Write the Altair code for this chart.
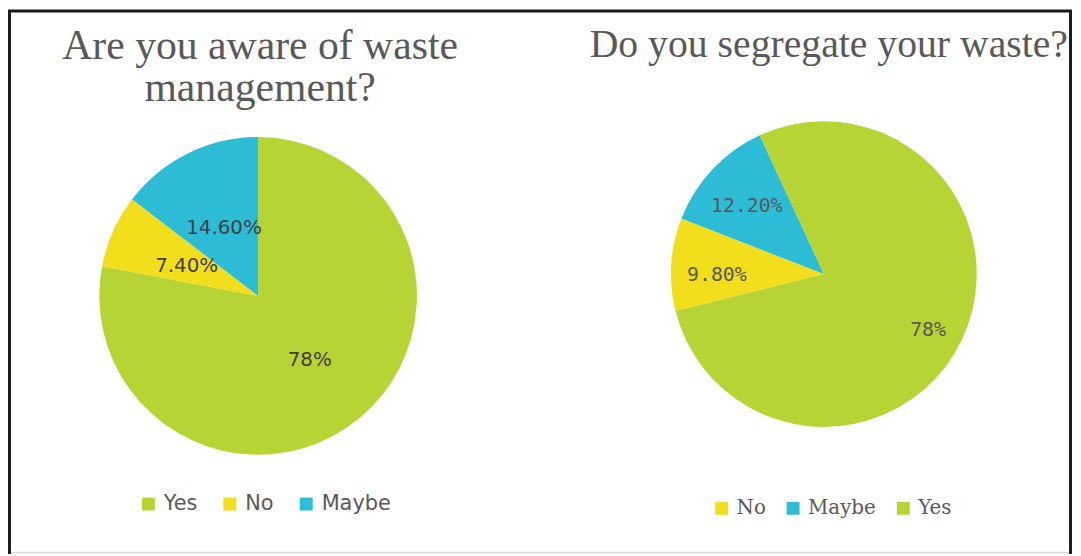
import math
import altair as alt
import pandas as pd

# ---- data ----
left_cats = ["Yes", "No", "Maybe"]
left_vals = [78.0, 7.4, 14.6]
left_labels = ["78%", "7.40%", "14.60%"]

right_cats = ["No", "Maybe", "Yes"]
right_vals = [9.8, 12.2, 78.0]
right_labels = ["9.80%", "12.20%", "78%"]

left_title = ["Are you aware of waste", "management?"]
right_title = "Do you segregate your waste?"

colors = {"Yes": "#B6D433", "No": "#F2DE1B", "Maybe": "#2CBCD6"}

W, H = 1073, 548


def pie(cats, vals, labels, cx, cy, r, label_r, start, label_font, label_color,
        legend, ldx, ldy):
    df = pd.DataFrame({"cat": cats, "val": vals, "label": labels,
                       "ord": list(range(len(cats)))})
    theta_scale = alt.Scale(range=[start, start + 2 * math.pi])
    base = alt.Chart(df).encode(
        theta=alt.Theta("val:Q", stack=True, scale=theta_scale),
        order=alt.Order("ord:Q"),
        x=alt.value(cx),
        y=alt.value(cy),
    )
    arc = base.mark_arc(outerRadius=r).encode(
        color=alt.Color("cat:N",
                        scale=alt.Scale(domain=cats, range=[colors[c] for c in cats]),
                        legend=legend)
    )
    text = base.mark_text(radius=label_r, font=label_font, fontSize=20,
                          color=label_color, dx=ldx, dy=ldy).encode(text="label:N")
    return alt.layer(arc, text)


left_legend = alt.Legend(orient="none", legendX=131, legendY=487, direction="horizontal",
                         title=None, symbolType="square", symbolSize=169,
                         symbolStrokeWidth=0, labelFont="DejaVu Sans", labelFontSize=21,
                         labelColor="#595959", labelOffset=5, columnPadding=22, padding=0)
right_legend = alt.Legend(orient="none", legendX=709, legendY=492, direction="horizontal",
                          title=None, symbolType="square", symbolSize=169,
                          symbolStrokeWidth=0, labelFont="DejaVu Serif", labelFontSize=20,
                          labelColor="#595959", labelOffset=5, columnPadding=17, padding=0)

left = pie(left_cats, left_vals, left_labels, 252, 288, 160, 80, 0.0,
           "DejaVu Sans", "#404040", left_legend, 1, 3)
right = pie(right_cats, right_vals, right_labels, 822, 266, 154, 112,
            math.radians(256), "DejaVu Sans Mono", "#595959", right_legend, 4, 8)

one = pd.DataFrame({"a": [0]})

title_l = alt.Chart(one).mark_text(text=left_title, font="Liberation Serif", fontSize=42,
                                   color="#595959", align="center", baseline="alphabetic",
                                   lineHeight=43).encode(x=alt.value(254), y=alt.value(49))
title_r = alt.Chart(one).mark_text(text=right_title, font="Liberation Serif", fontSize=40,
                                   color="#595959", align="center",
                                   baseline="alphabetic").encode(x=alt.value(827), y=alt.value(47))

frame_color = "#1a1a1a"
f_left = alt.Chart(one).mark_rule(color=frame_color, strokeWidth=3).encode(
    x=alt.value(1.5), y=alt.value(0), y2=alt.value(H))
f_top = alt.Chart(one).mark_rule(color=frame_color, strokeWidth=3).encode(
    y=alt.value(1), x=alt.value(0), x2=alt.value(1072))
f_right = alt.Chart(one).mark_rule(color=frame_color, strokeWidth=3).encode(
    x=alt.value(1070.5), y=alt.value(0), y2=alt.value(H))
f_bottom = alt.Chart(one).mark_rule(color="#d9d9d9", strokeWidth=1.5).encode(
    y=alt.value(546.5), x=alt.value(3), x2=alt.value(1069))

chart = alt.layer(left, right, title_l, title_r, f_left, f_top, f_right, f_bottom).resolve_scale(
    theta="independent", color="independent"
).properties(
    width=W, height=H, padding=0, autosize="none", background="white"
).configure_view(stroke=None)

chart.save("out.html", embed_options={"renderer": "svg", "actions": False})
